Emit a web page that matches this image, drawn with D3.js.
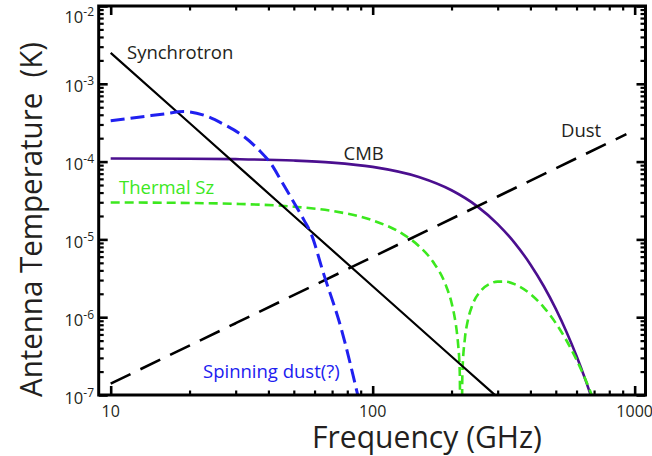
<!DOCTYPE html>
<html><head><meta charset="utf-8">
<script src="https://cdn.jsdelivr.net/npm/d3@7"></script>
<style>
body{margin:0;background:#fff;}
svg text{font-family:"Open Sans",sans-serif;fill:#231f20;}
</style></head><body>
<svg id="c" width="652" height="456"></svg>
<script>
// ---- data ----
const xTicks = [10, 100, 1000];
const xTickLabels = ["10", "100", "1000"];
const yTicks = [1e-7, 1e-6, 1e-5, 1e-4, 1e-3, 1e-2];
const yTickExp = ["-7", "-6", "-5", "-4", "-3", "-2"];

const synchFreq = [10, 20, 50, 100, 200, 300];
const synchT    = [2.5e-3, 3.13e-4, 2.0e-5, 2.5e-6, 3.13e-7, 9.3e-8];

const dustFreq = [10, 30, 100, 300, 930];
const dustT    = [1.4e-7, 8.37e-7, 5.95e-6, 3.56e-5, 2.25e-4];

const cmbFreq = [10, 20, 30, 50, 70, 100, 150, 200, 250, 300, 350, 400, 450, 500, 550, 600, 650, 700];
const cmbT    = [1.097e-4, 1.089e-4, 1.075e-4, 1.032e-4, 9.71e-5, 8.55e-5, 6.34e-5, 4.28e-5, 2.68e-5, 1.574e-5,
                 8.83e-6, 4.77e-6, 2.50e-6, 1.28e-6, 6.42e-7, 3.17e-7, 1.54e-7, 7.4e-8];

const szFreq = [10, 20, 30, 50, 70, 100, 130, 150, 170, 190, 200, 205, 210, 212, 215, 217.5, 220, 225, 230, 240,
                260, 280, 300, 320, 350, 400, 450, 500, 550, 600, 650, 700];
const szT    = [2.985e-5, 2.938e-5, 2.864e-5, 2.634e-5, 2.32e-5, 1.758e-5, 1.178e-5, 8.24e-6, 5.15e-6, 2.60e-6,
                1.536e-6, 1.05e-6, 6.07e-7, 4.4e-7, 1.94e-7, 1e-9, 1.9e-7, 5.4e-7, 8.6e-7, 1.418e-6,
                2.22e-6, 2.68e-6, 2.87e-6, 2.87e-6, 2.64e-6, 1.99e-6, 1.34e-6, 8.39e-7, 4.98e-7, 2.84e-7, 1.56e-7, 8.4e-8];

const spinFreq = [10, 13, 16, 19, 22.7, 27, 32.3, 36.8, 40.8, 44.6, 49.4, 54.7, 58, 65, 75.5, 87.4, 92];
const spinT    = [3.36e-4, 3.75e-4, 4.1e-4, 4.4e-4, 3.95e-4, 3.02e-4, 2.09e-4, 1.41e-4, 9.5e-5, 5.8e-5,
                  3.21e-5, 1.77e-5, 1.22e-5, 3.6e-6, 7.55e-7, 1.05e-7, 5e-8];

const seriesNames = ["Synchrotron", "CMB", "Dust", "Thermal Sz", "Spinning dust(?)"];

// ---- layout ----
const L = 98.7, R = 645.5, T = 6, B = 395;
const x = d3.scaleLog().domain([9, 1100]).range([L, R]);
const y = d3.scaleLog().domain([1e-7, 1e-2]).range([B, T]);
const svg = d3.select("#c");

const defs = svg.append("defs");
defs.append("clipPath").attr("id", "clip").append("rect")
  .attr("x", L).attr("y", T).attr("width", R - L).attr("height", B - T);

const zip = (a, b) => a.map((v, i) => [v, b[i]]);
const line = d3.line().x(d => x(d[0])).y(d => y(d[1])).curve(d3.curveMonotoneX);

const plot = svg.append("g").attr("clip-path", "url(#clip)");
const series = [
  {f: cmbFreq, t: cmbT, color: "#4b0f8f", w: 2.6, dash: null},
  {f: szFreq, t: szT, color: "#3ce81e", w: 2.6, dash: "9,5"},
  {f: synchFreq, t: synchT, color: "#000", w: 2.2, dash: null},
  {f: dustFreq, t: dustT, color: "#000", w: 2.6, dash: "22,11"},
  {f: spinFreq, t: spinT, color: "#2020f0", w: 3, dash: "14,6"}
];
series.forEach(s => {
  plot.append("path").datum(zip(s.f, s.t)).attr("d", line)
    .attr("fill", "none").attr("stroke", s.color).attr("stroke-width", s.w)
    .attr("stroke-dasharray", s.dash);
});

// ---- axes (ticks inward on all four sides) ----
const xMinor = [];
[10, 100].forEach(d => { for (let m = 2; m <= 9; m++) xMinor.push(m * d); });
const yMinor = [];
for (let k = -7; k <= -3; k++) for (let m = 2; m <= 9; m++) yMinor.push(m * Math.pow(10, k));

function styleAxis(g, w) {
  g.select(".domain").remove();
  g.selectAll(".tick line").attr("stroke", "#000").attr("stroke-width", w);
}
const axes = svg.append("g");
[[xTicks, -9, 2.6], [xMinor, -4.5, 2.2]].forEach(([vals, sz, w]) => {
  axes.append("g").attr("transform", `translate(0,${B})`)
    .call(d3.axisBottom(x).tickValues(vals).tickSize(sz).tickFormat("")).call(g => styleAxis(g, w));
  axes.append("g").attr("transform", `translate(0,${T})`)
    .call(d3.axisTop(x).tickValues(vals).tickSize(sz).tickFormat("")).call(g => styleAxis(g, w));
});
[[yTicks, -9, 2.6], [yMinor, -5, 2.2]].forEach(([vals, sz, w]) => {
  axes.append("g").attr("transform", `translate(${L},0)`)
    .call(d3.axisLeft(y).tickValues(vals).tickSize(sz).tickFormat("")).call(g => styleAxis(g, w));
  axes.append("g").attr("transform", `translate(${R},0)`)
    .call(d3.axisRight(y).tickValues(vals).tickSize(sz).tickFormat("")).call(g => styleAxis(g, w));
});
axes.append("rect").attr("x", L).attr("y", T).attr("width", R - L).attr("height", B - T)
  .attr("fill", "none").attr("stroke", "#000").attr("stroke-width", 3);

// tick labels
svg.append("g").selectAll("text").data(xTicks).join("text")
  .attr("x", d => x(d)).attr("y", 417).attr("text-anchor", "middle")
  .style("font-size", "16px").text((d, i) => xTickLabels[i]);

const yl = svg.append("g").selectAll("text").data(yTicks).join("text")
  .attr("x", 94).attr("y", d => Math.max(y(d) + 8.5, 23)).attr("text-anchor", "end")
  .style("font-size", "16.5px");
yl.append("tspan").text("10");
yl.append("tspan").attr("dy", -7).style("font-size", "12px").text((d, i) => yTickExp[i]);

// axis titles
svg.append("text").attr("x", 427).attr("y", 448).attr("text-anchor", "middle")
  .style("font-size", "31px").attr("textLength", 230).attr("lengthAdjust", "spacingAndGlyphs")
  .text("Frequency (GHz)");
svg.append("text").attr("transform", "translate(41.5,219.5) rotate(-90)").attr("text-anchor", "middle")
  .style("font-size", "31px").style("white-space", "pre").attr("textLength", 355).attr("lengthAdjust", "spacingAndGlyphs")
  .text("Antenna Temperature  (K)");

// curve labels
const labels = [
  {t: seriesNames[0], x: 127, y: 58.5, c: "#231f20"},
  {t: seriesNames[1], x: 343.5, y: 159.5, c: "#231f20"},
  {t: seriesNames[2], x: 561, y: 137, c: "#231f20"},
  {t: seriesNames[3], x: 119, y: 194, c: "#3ce81e"},
  {t: seriesNames[4], x: 203, y: 378, c: "#2020f0"}
];
svg.append("g").selectAll("text").data(labels).join("text")
  .attr("x", d => d.x).attr("y", d => d.y).style("font-size", "18.5px")
  .style("fill", d => d.c).text(d => d.t);
</script>
</body></html>
